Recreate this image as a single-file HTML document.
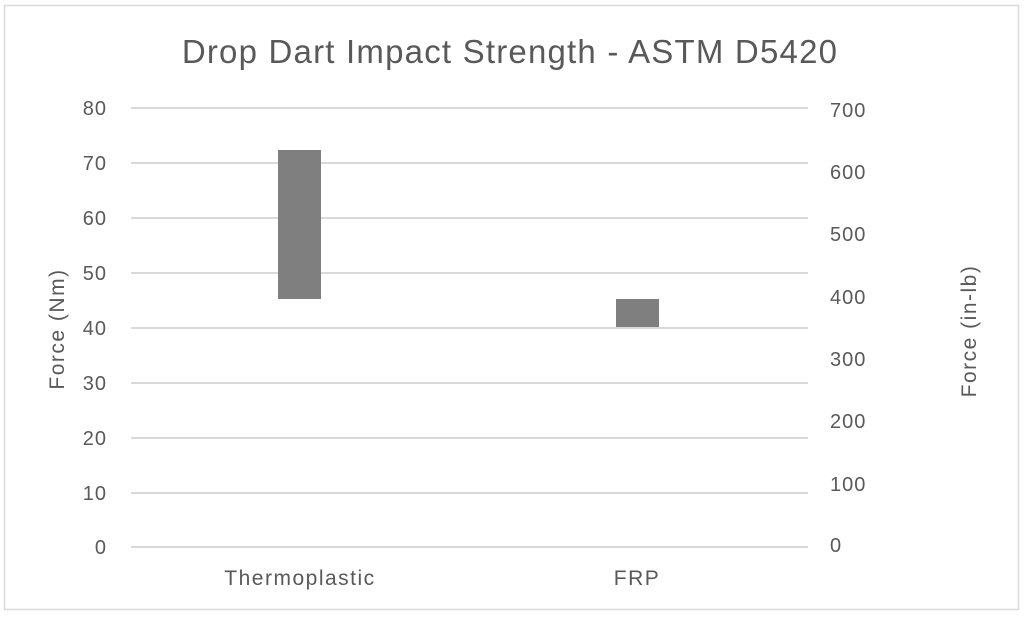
<!DOCTYPE html>
<html><head><style>
body{margin:0;background:#fff;}
svg text{font-family:"Liberation Sans",sans-serif;fill:#595959;}
</style></head><body>
<svg width="1024" height="616" xmlns="http://www.w3.org/2000/svg">
<rect x="4.5" y="5.5" width="1014" height="604" fill="#fff" stroke="#d9d9d9" stroke-width="1.5"/>
<text x="510" y="63" font-size="33" letter-spacing="1.2" text-anchor="middle">Drop Dart Impact Strength - ASTM D5420</text>
<g stroke="#d9d9d9" stroke-width="2">
<line x1="131" x2="808" y1="108" y2="108"/>
<line x1="131" x2="808" y1="163" y2="163"/>
<line x1="131" x2="808" y1="218" y2="218"/>
<line x1="131" x2="808" y1="273" y2="273"/>
<line x1="131" x2="808" y1="328" y2="328"/>
<line x1="131" x2="808" y1="383" y2="383"/>
<line x1="131" x2="808" y1="438" y2="438"/>
<line x1="131" x2="808" y1="493" y2="493"/>
<line x1="131" x2="808" y1="547" y2="547"/>
</g>
<rect x="278" y="150" width="43" height="149" fill="#7f7f7f"/>
<rect x="616" y="299" width="43" height="28" fill="#7f7f7f"/>
<g font-size="20" letter-spacing="1" text-anchor="end">
<text x="107" y="115">80</text>
<text x="107" y="170">70</text>
<text x="107" y="225">60</text>
<text x="107" y="280">50</text>
<text x="107" y="335">40</text>
<text x="107" y="390">30</text>
<text x="107" y="445">20</text>
<text x="107" y="500">10</text>
<text x="107" y="554">0</text>
</g>
<g font-size="20" letter-spacing="1" text-anchor="start">
<text x="830" y="117">700</text>
<text x="830" y="179">600</text>
<text x="830" y="241">500</text>
<text x="830" y="304">400</text>
<text x="830" y="366">300</text>
<text x="830" y="428">200</text>
<text x="830" y="491">100</text>
<text x="830" y="552">0</text>
</g>
<text x="300" y="585" font-size="21" letter-spacing="1.5" text-anchor="middle">Thermoplastic</text>
<text x="637" y="585" font-size="21" letter-spacing="1.5" text-anchor="middle">FRP</text>
<text transform="translate(64,329) rotate(-90)" font-size="21" letter-spacing="1.5" text-anchor="middle">Force (Nm)</text>
<text transform="translate(976,331) rotate(-90)" font-size="21" letter-spacing="1.5" text-anchor="middle">Force (in-lb)</text>
</svg>
</body></html>
